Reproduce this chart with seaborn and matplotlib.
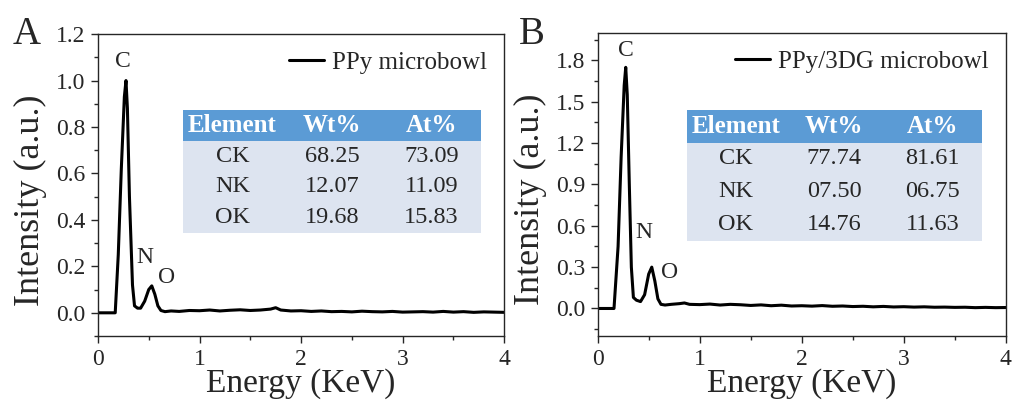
# EDS spectra of PPy and PPy/3DG microbowls
import pandas as pd
import matplotlib.pyplot as plt
import seaborn as sb
from matplotlib.ticker import MultipleLocator

# spectrum A (PPy microbowl)
energy_a = [0.0, 0.10, 0.17, 0.20, 0.23, 0.26, 0.276, 0.29, 0.31, 0.34, 0.36, 0.39, 0.42, 0.46,
            0.50, 0.53, 0.56, 0.59, 0.62, 0.66, 0.72, 0.80, 0.90, 1.00, 1.10, 1.20, 1.30,
            1.40, 1.50, 1.60, 1.70, 1.75, 1.80, 1.90, 2.00, 2.10, 2.20, 2.30, 2.40, 2.50,
            2.60, 2.70, 2.80, 2.90, 3.00, 3.10, 3.20, 3.30, 3.40, 3.50, 3.60, 3.70, 3.80,
            3.90, 4.00]
intensity_a = [0.0, 0.0, 0.0, 0.25, 0.62, 0.93, 1.00, 0.88, 0.50, 0.12, 0.03, 0.02, 0.02, 0.05,
               0.10, 0.116, 0.08, 0.03, 0.01, 0.005, 0.008, 0.006, 0.01, 0.009, 0.012, 0.008,
               0.011, 0.013, 0.010, 0.012, 0.016, 0.022, 0.012, 0.008, 0.009, 0.006, 0.008,
               0.005, 0.006, 0.004, 0.007, 0.005, 0.004, 0.006, 0.003, 0.004, 0.005, 0.003,
               0.006, 0.003, 0.005, 0.002, 0.004, 0.003, 0.002]

# spectrum B (PPy/3DG microbowl)
energy_b = [0.0, 0.10, 0.16, 0.20, 0.23, 0.26, 0.275, 0.29, 0.31, 0.33, 0.35, 0.38, 0.42, 0.46,
            0.50, 0.53, 0.56, 0.59, 0.62, 0.66, 0.72, 0.80, 0.85, 0.90, 1.00, 1.10, 1.20,
            1.30, 1.40, 1.50, 1.60, 1.70, 1.80, 1.90, 2.00, 2.10, 2.20, 2.30, 2.40, 2.50,
            2.60, 2.70, 2.80, 2.90, 3.00, 3.10, 3.20, 3.30, 3.40, 3.50, 3.60, 3.70, 3.80,
            3.90, 4.00]
intensity_b = [0.0, 0.0, 0.0, 0.45, 1.10, 1.62, 1.75, 1.55, 0.90, 0.30, 0.08, 0.06, 0.05, 0.10,
               0.25, 0.30, 0.20, 0.07, 0.03, 0.025, 0.03, 0.035, 0.04, 0.03, 0.028, 0.032,
               0.025, 0.03, 0.027, 0.022, 0.026, 0.02, 0.024, 0.018, 0.02, 0.017, 0.021,
               0.016, 0.018, 0.014, 0.016, 0.012, 0.015, 0.011, 0.013, 0.010, 0.012, 0.009,
               0.010, 0.008, 0.009, 0.006, 0.008, 0.006, 0.007]

labels = ['PPy microbowl', 'PPy/3DG microbowl']
panel_letters = ['A', 'B']

# element tables
table_cols = ['Element', 'Wt%', 'At%']
elements = ['CK', 'NK', 'OK']
wt_a = ['68.25', '12.07', '19.68']
at_a = ['73.09', '11.09', '15.83']
wt_b = ['77.74', '07.50', '14.76']
at_b = ['81.61', '06.75', '11.63']

peak_names = ['C', 'N', 'O']
peak_pos_a = [(0.25, 1.08), (0.46, 0.24), (0.68, 0.15)]
peak_pos_b = [(0.28, 1.87), (0.45, 0.55), (0.70, 0.26)]

sb.set_style('ticks')
plt.rcParams['font.family'] = ['Liberation Serif', 'DejaVu Serif']

fig = plt.figure(figsize=(10.13, 4.01), dpi=100)
ax_a = fig.add_axes([0.0967, 0.162, 0.401, 0.753])
ax_b = fig.add_axes([0.590, 0.162, 0.403, 0.756])

header_color = '#5b9bd5'
body_color = '#dde4f0'

panels = [
    (ax_a, energy_a, intensity_a, wt_a, at_a, peak_pos_a, (-0.1, 1.2), 0.2, 0.1,
     [0.209, 0.341, 0.734, 0.407]),
    (ax_b, energy_b, intensity_b, wt_b, at_b, peak_pos_b, (-0.2, 2.0), 0.3, 0.15,
     [0.218, 0.314, 0.723, 0.432]),
]

for i, (ax, e, y, wt, at, pk, ylim, ymaj, ymin, tb) in enumerate(panels):
    df = pd.DataFrame({'Energy': e, 'Intensity': y})
    sb.lineplot(x='Energy', y='Intensity', data=df, ax=ax, color='black', lw=2.2,
                label=labels[i])
    ax.set_xlim(0, 4)
    ax.set_ylim(*ylim)
    ax.xaxis.set_major_locator(MultipleLocator(1))
    ax.xaxis.set_minor_locator(MultipleLocator(0.5))
    ax.yaxis.set_major_locator(MultipleLocator(ymaj))
    ax.yaxis.set_minor_locator(MultipleLocator(ymin))
    ax.tick_params(which='major', length=5, width=1.0, labelsize=17, pad=4)
    ax.tick_params(which='minor', length=3, width=1.0)
    for s in ax.spines.values():
        s.set_linewidth(1.0)
    ax.set_xlabel('Energy (KeV)', fontsize=24, labelpad=-1)
    ax.set_ylabel('Intensity (a.u.)', fontsize=26)
    ax.yaxis.set_label_coords(-0.125, 0.45)
    ax.legend(loc='upper right', frameon=False, fontsize=18, handlelength=1.4,
              handletextpad=0.3, borderaxespad=0.3)
    for name, (px, py) in zip(peak_names, pk):
        ax.text(px, py, name, fontsize=17, ha='center', va='center')

    # composition table
    cells = [[el, w, a] for el, w, a in zip(elements, wt, at)]
    tab = ax.table(cellText=cells, colLabels=table_cols, cellLoc='center',
                   bbox=tb)
    tab.auto_set_font_size(False)
    for (r, c), cell in tab.get_celld().items():
        cell.set_linewidth(0)
        if r == 0:
            cell.set_facecolor(header_color)
            cell.set_text_props(color='white', fontweight='bold', fontsize=18)
        else:
            cell.set_facecolor(body_color)
            cell.set_text_props(fontsize=17.5)

    fig.text(0.012 + 0.500 * i, 0.890, panel_letters[i], fontsize=28, va='baseline')

plt.savefig('out.png', dpi=100)
